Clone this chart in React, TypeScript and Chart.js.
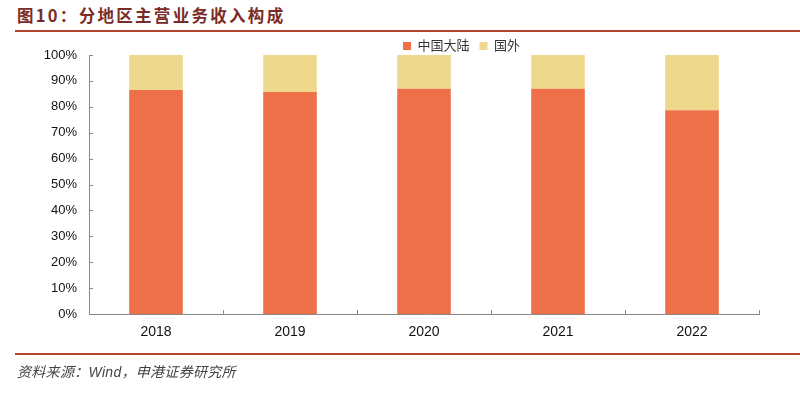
import React, { useEffect, useRef } from "react";
import { Chart, registerables } from "chart.js";

Chart.register(...registerables);

const categories = ["2018", "2019", "2020", "2021", "2022"];
const mainlandValues = [86.5, 85.7, 87.0, 87.0, 78.7];
const overseasValues = [13.5, 14.3, 13.0, 13.0, 21.3];
const seriesNames = ["中国大陆", "国外"];
const yTickMax = 100;
const yTickStep = 10;

const titleText = "图10：分地区主营业务收入构成";
const sourceText = "资料来源：Wind，申港证券研究所";

const FONT = '"Liberation Sans", Arial, "Noto Sans CJK SC", sans-serif';

const inwardTicks = {
  id: "inwardTicks",
  afterDatasetsDraw(chart: any) {
    const ctx = chart.ctx;
    const x = chart.scales.x;
    const y = chart.scales.y;
    ctx.save();
    ctx.strokeStyle = "#8a8a8a";
    ctx.lineWidth = 1;
    ctx.beginPath();
    y.ticks.forEach((t: any) => {
      const py = Math.round(y.getPixelForValue(t.value)) + 0.5;
      ctx.moveTo(x.left, py);
      ctx.lineTo(x.left + 4, py);
    });
    for (let i = 0; i <= categories.length; i++) {
      const px = Math.round(x.getPixelForValue(i - 0.5)) + 0.5;
      ctx.moveTo(px, y.bottom);
      ctx.lineTo(px, y.bottom - 4);
    }
    ctx.stroke();
    ctx.restore();
  },
};

const shiftLegend = {
  id: "shiftLegend",
  afterLayout(chart: any) {
    const l = chart.legend;
    if (l) {
      l.left += 82;
      l.right += 82;
    }
  },
};

export default function App() {
  const ref = useRef<HTMLCanvasElement>(null);

  useEffect(() => {
    if (!ref.current) return;
    const chart = new Chart(ref.current, {
      type: "bar",
      data: {
        labels: categories,
        datasets: [
          {
            label: seriesNames[0],
            data: mainlandValues,
            backgroundColor: "#EE7049",
            borderWidth: 0,
            barPercentage: 0.4,
            categoryPercentage: 1,
          },
          {
            label: seriesNames[1],
            data: overseasValues,
            backgroundColor: "#EED88C",
            borderWidth: 0,
            barPercentage: 0.4,
            categoryPercentage: 1,
          },
        ],
      },
      options: {
        responsive: false,
        animation: false,
        devicePixelRatio: 1,
        layout: { padding: { top: 29.5, left: 0, right: 41, bottom: 0 } },
        plugins: {
          tooltip: { enabled: false },
          legend: {
            display: true,
            position: "top",
            maxHeight: 25.5,
            labels: {
              boxWidth: 8,
              boxHeight: 8,
              padding: 10,
              color: "#333",
              font: { size: 13, family: FONT },
            },
          },
        },
        scales: {
          x: {
            stacked: true,
            grid: { display: false, drawTicks: false },
            border: { display: true, color: "#8a8a8a", width: 1 },
            ticks: { color: "#111", padding: 10, font: { size: 14, family: FONT } },
            afterFit: (s: any) => {
              s.height = 81;
            },
          },
          y: {
            stacked: true,
            min: 0,
            max: yTickMax,
            grid: { display: false, drawTicks: false },
            border: { display: true, color: "#8a8a8a", width: 1 },
            ticks: {
              stepSize: yTickStep,
              color: "#111",
              padding: 12,
              font: { size: 13, family: FONT },
              callback: (v: any) => v + "%",
            },
            afterFit: (s: any) => {
              s.width = 89;
            },
          },
        },
      },
      plugins: [inwardTicks, shiftLegend],
    });
    return () => chart.destroy();
  }, []);

  return (
    <div
      style={{
        position: "fixed",
        left: 0,
        top: 0,
        width: 800,
        height: 395,
        background: "#fff",
        overflow: "hidden",
      }}
    >
      <div
        style={{
          position: "absolute",
          left: 17,
          top: 3,
          fontFamily: '"Noto Sans CJK SC", sans-serif',
          fontWeight: 700,
          fontSize: 16.5,
          letterSpacing: "2.3px",
          color: "#7B2B26",
          lineHeight: "24px",
          whiteSpace: "nowrap",
        }}
      >
        {titleText}
      </div>
      <div
        style={{
          position: "absolute",
          left: 15,
          top: 30,
          width: 785,
          height: 2,
          background: "#B4442C",
        }}
      />
      <canvas
        ref={ref}
        width={800}
        height={395}
        style={{ position: "absolute", left: 0, top: 0, width: 800, height: 395 }}
      />
      <div
        style={{
          position: "absolute",
          left: 15,
          top: 353,
          width: 785,
          height: 1.5,
          background: "#B4442C",
        }}
      />
      <div
        style={{
          position: "absolute",
          left: 17,
          top: 362,
          fontFamily: '"Liberation Sans", Arial, "Noto Sans CJK SC", sans-serif',
          fontStyle: "italic",
          fontSize: 14,
          letterSpacing: "0.3px",
          color: "#444",
          lineHeight: "20px",
          whiteSpace: "nowrap",
        }}
      >
        {sourceText}
      </div>
    </div>
  );
}
